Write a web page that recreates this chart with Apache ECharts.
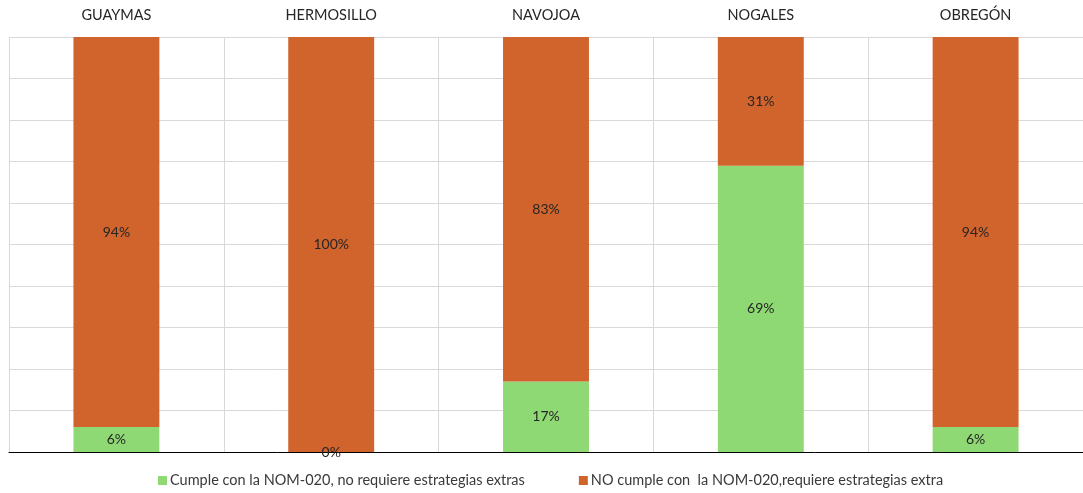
<!DOCTYPE html>
<html>
<head>
<meta charset="utf-8">
<script src="https://cdn.jsdelivr.net/npm/echarts@6/dist/echarts.min.js"></script>
<style>
  html, body { margin: 0; padding: 0; background: #fff; }
  #chart { width: 1083px; height: 493px; }
</style>
</head>
<body>
<div id="chart"></div>
<script>
// Municipalities and share of centres per NOM-020 outcome (percent)
const categories = ['GUAYMAS', 'HERMOSILLO', 'NAVOJOA', 'NOGALES', 'OBREGÓN'];
const seriesNames = [
  'Cumple con la NOM-020, no requiere estrategias extras',
  'NO cumple con  la NOM-020,requiere estrategias extra'
];
const cumple = [6, 0, 17, 69, 6];
const noCumple = [94, 100, 83, 31, 94];

const FONT = 'Lato, "Noto Sans", sans-serif';
const chart = echarts.init(document.getElementById('chart'));

const label = {
  show: true,
  position: 'inside',
  formatter: p => p.value + '%',
  color: '#262626',
  fontFamily: FONT,
  fontSize: 14
};

chart.setOption({
  animation: false,
  grid: { left: 9, right: 0, top: 37, bottom: 41, containLabel: false },
  legend: {
    bottom: 0,
    left: 153,
    itemWidth: 9,
    itemHeight: 9,
    itemGap: 54,
    icon: 'rect',
    textStyle: { fontFamily: FONT, fontSize: 14.5, color: '#3a3a3a', padding: [0, 0, 0, -2] },
    data: seriesNames
  },
  xAxis: [
    {
      type: 'category',
      position: 'top',
      data: categories,
      axisLine: { show: false },
      axisTick: { show: false },
      axisLabel: { fontFamily: FONT, fontSize: 14.5, color: '#262626', margin: 14 },
      splitLine: { show: true, lineStyle: { color: '#d9d9d9', width: 1 } }
    },
    {
      type: 'category',
      position: 'bottom',
      data: categories,
      axisLine: { show: true, lineStyle: { color: '#000', width: 1 } },
      axisTick: { show: false },
      axisLabel: { show: false }
    }
  ],
  yAxis: {
    type: 'value',
    min: 0,
    max: 100,
    interval: 10,
    axisLabel: { show: false },
    axisLine: { show: false },
    axisTick: { show: false },
    splitLine: { show: true, lineStyle: { color: '#d9d9d9', width: 1 } }
  },
  series: [
    {
      name: seriesNames[0],
      type: 'bar',
      stack: 'total',
      data: cumple,
      barWidth: '40%',
      itemStyle: { color: '#8fd974' },
      label: label
    },
    {
      name: seriesNames[1],
      type: 'bar',
      stack: 'total',
      data: noCumple,
      barWidth: '40%',
      itemStyle: { color: '#d1632c' },
      label: label
    }
  ]
});
</script>
</body>
</html>
